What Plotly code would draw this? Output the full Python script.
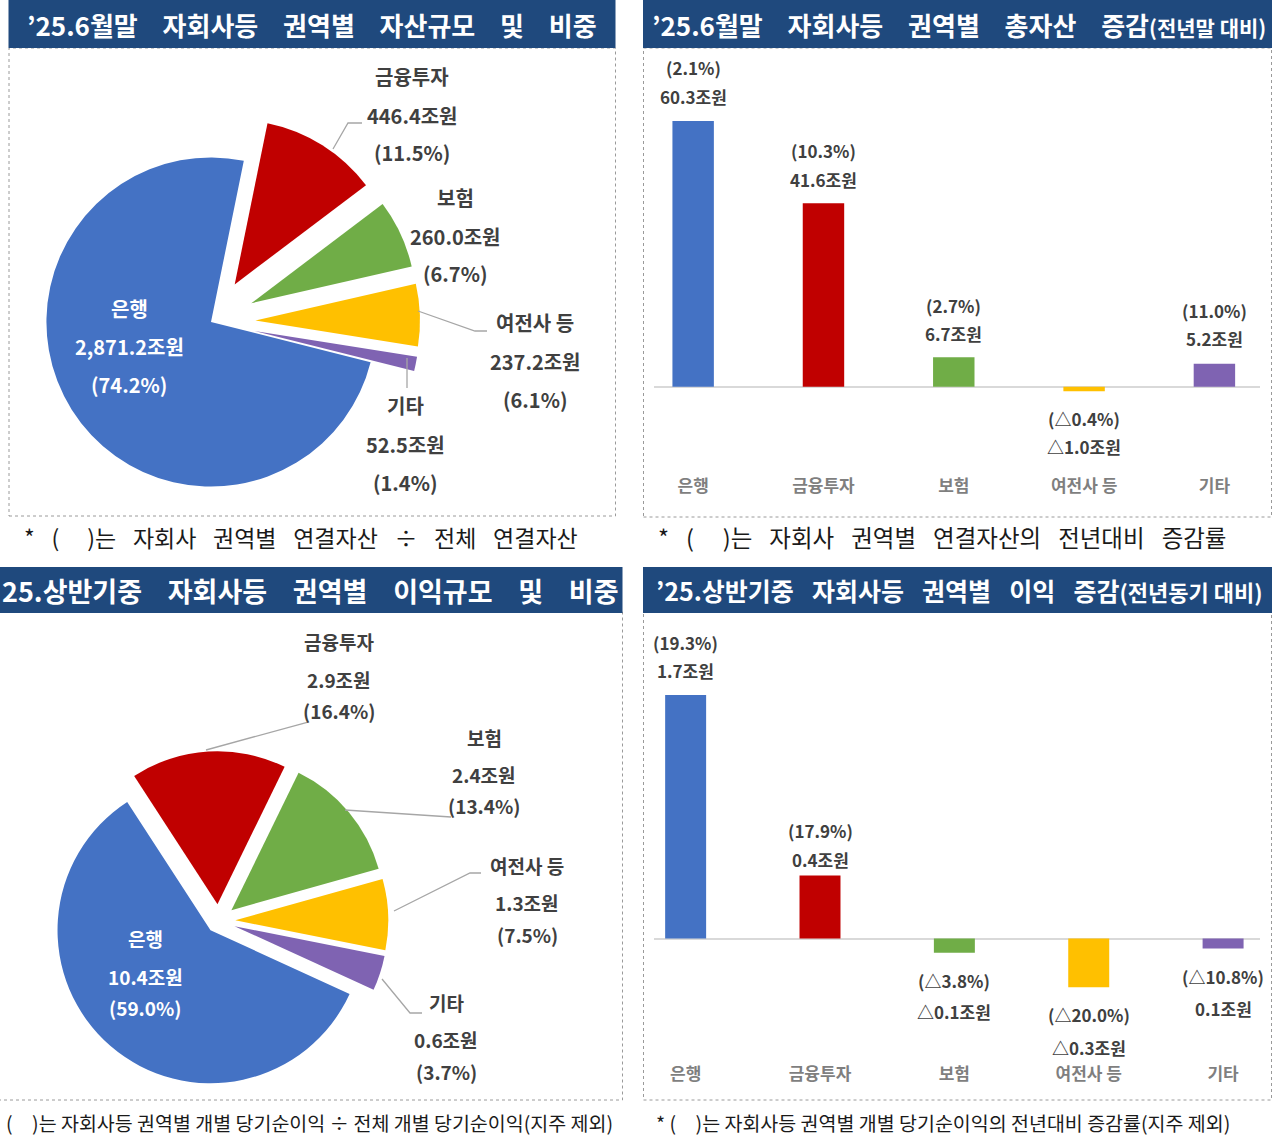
import plotly.graph_objects as go

W, H = 1280, 1146
FONT = "Noto Sans CJK KR"

# ---------------- data ----------------
sectors = ["은행", "금융투자", "보험", "여전사 등", "기타"]
sector_colors = ["#4472C4", "#C00000", "#70AD47", "#FFC000", "#7F63B2"]

# '25.6월말 권역별 자산규모(조원) 및 비중(%)
asset_amount = [2871.2, 446.4, 260.0, 237.2, 52.5]
asset_share = [74.2, 11.5, 6.7, 6.1, 1.4]

# '25.6월말 권역별 총자산 증감(조원), 증감률(%)
asset_change = [60.3, 41.6, 6.7, -1.0, 5.2]
asset_change_rate = [2.1, 10.3, 2.7, -0.4, 11.0]

# '25.상반기중 권역별 이익규모(조원) 및 비중(%)
profit_amount = [10.4, 2.9, 2.4, 1.3, 0.6]
profit_share = [59.0, 16.4, 13.4, 7.5, 3.7]

# '25.상반기중 권역별 이익 증감: bar heights, printed labels
profit_change = [1.70, 0.44, -0.10, -0.34, -0.07]
profit_change_text = ["1.7", "0.4", "△0.1", "△0.3", "0.1"]
profit_change_rate = [19.3, 17.9, -3.8, -20.0, -10.8]

pie_order = [1, 2, 3, 4, 0]  # clockwise from the top: 금융투자 ... 은행


# ---------------- helpers ----------------
def fx(x):
    return x / W


def fy(y):
    return 1 - y / H


def tri(v):
    return ("△" if v < 0 else "") + f"{abs(v):.1f}"


annotations = []
shapes = []


def text(x, y, s, size, color="#404040", weight="bold", xanchor="center", xref="paper", yref="paper", yshift=0):
    annotations.append(dict(
        x=fx(x) if xref == "paper" else x,
        y=fy(y) if yref == "paper" else y,
        xref=xref, yref=yref, text=s, showarrow=False,
        xanchor=xanchor, yanchor="middle", yshift=yshift,
        font=dict(family=FONT, size=size, color=color, weight=weight),
    ))


def rect(x0, y0, x1, y1, fill=None, line=None):
    shapes.append(dict(type="rect", xref="paper", yref="paper",
                       x0=fx(x0), x1=fx(x1), y0=fy(y1), y1=fy(y0),
                       fillcolor=fill or "rgba(0,0,0,0)",
                       line=line or dict(width=0), layer="below"))


def polyline(pts, color="#A6A6A6", width=1.3):
    path = "M " + " L ".join(f"{fx(x):.5f},{fy(y):.5f}" for x, y in pts)
    shapes.append(dict(type="path", xref="paper", yref="paper", path=path,
                       line=dict(color=color, width=width)))


fig = go.Figure()

# ---------------- panel frames ----------------
NAVY = "#1F497D"
dot = dict(color="#9A9A9A", width=1, dash="dot")
rect(9, 48, 615.5, 516, line=dot)
rect(643.5, 48, 1271.5, 517, line=dot)
rect(-2, 612, 622.5, 1100, line=dot)
rect(643.5, 612, 1271.5, 1100, line=dot)
rect(8.5, 0, 615.5, 48, fill=NAVY)
rect(643, 0, 1272, 48, fill=NAVY)
rect(0, 567, 622.5, 613, fill=NAVY)
rect(643, 567, 1272, 613, fill=NAVY)

G = "\u2002\u00a0\u00a0"
G2 = "\u2002\u00a0"
span = "<span style='font-size:{}px'>{}</span>"
text(25, 24, f"’25.6월말{G}자회사등{G}권역별{G}자산규모{G}및{G}비중", 26, "white", xanchor="left")
text(650, 24, f"’25.6월말{G}자회사등{G}권역별{G}총자산{G}증감" + span.format(21, "(전년말 대비)"), 26, "white", xanchor="left")
text(0, 590, f"25.상반기중{G}자회사등{G}권역별{G}이익규모{G}및{G}비중", 27, "white", xanchor="left")
text(654, 590, f"’25.상반기중{G2}자회사등{G2}권역별{G2}이익{G2}증감" + span.format(22, "(전년동기 대비)"), 25, "white", xanchor="left")

GF = "\u2002\u00a0"
S = "\u00a0"
text(22, 537, "*" + GF + "(\u2003\u00a0)는" + GF + "자회사" + GF + "권역별" + GF + "연결자산" + GF + "÷" + GF + "전체" + GF + "연결자산",
     23, "#1A1A1A", "normal", xanchor="left")
text(656, 537, "*" + GF + "(\u2003\u00a0)는" + GF + "자회사" + GF + "권역별" + GF + "연결자산의" + GF + "전년대비" + GF + "증감률",
     23.5, "#1A1A1A", "normal", xanchor="left")
text(4, 1122, "(\u2003)는" + S + "자회사등" + S + "권역별" + S + "개별" + S + "당기순이익" + S + "÷" + S + "전체" + S + "개별" + S + "당기순이익(지주" + S + "제외)",
     19.5, "#1A1A1A", "normal", xanchor="left")
text(654, 1122, "*" + S + "(\u2003)는" + S + "자회사등" + S + "권역별" + S + "개별" + S + "당기순이익의" + S + "전년대비" + S + "증감률(지주" + S + "제외)",
     19.5, "#1A1A1A", "normal", xanchor="left")

# ---------------- pie 1: asset size ----------------
fig.add_trace(go.Pie(
    labels=[sectors[i] for i in pie_order],
    values=[asset_share[i] for i in pie_order],
    marker=dict(colors=[sector_colors[i] for i in pie_order]),
    pull=[0.27, 0.27, 0.27, 0.27, 0.0],
    rotation=11.5, direction="clockwise", sort=False,
    textinfo="none", hoverinfo="skip", showlegend=False,
    domain=dict(x=[fx(2.0), fx(420.0)], y=[fy(531.0), fy(113.0)]),
))
pie1_pos = [(129, 308, 346, 384), (412, 76, 115, 153), (455, 197, 236, 274),
            (535, 322, 361, 399), (405, 405, 444, 483)]
for i, (cx, y1, y2, y3) in enumerate(pie1_pos):
    col = "white" if i == 0 else "#404040"
    text(cx, y1, sectors[i], 20, col)
    text(cx, y2, f"{asset_amount[i]:,.1f}조원", 20, col)
    text(cx, y3, f"({asset_share[i]:.1f}%)", 20, col)
polyline([(333, 149), (348, 123), (362, 123)])
polyline([(418, 311), (475, 331), (487, 331)])
polyline([(407, 358), (407, 388)])

# ---------------- pie 2: profit size ----------------
fig.add_trace(go.Pie(
    labels=[sectors[i] for i in pie_order],
    values=[profit_share[i] for i in pie_order],
    marker=dict(colors=[sector_colors[i] for i in pie_order]),
    pull=[0.11, 0.11, 0.11, 0.11, 0.08],
    rotation=-33, direction="clockwise", sort=False,
    textinfo="none", hoverinfo="skip", showlegend=False,
    domain=dict(x=[fx(48.7), fx(388.3)], y=[fy(1090.8), fy(751.2)]),
))
pie2_pos = [(145, 939, 976, 1007), (339, 641, 679, 710), (484, 737, 774, 806),
            (527, 865, 902, 934), (446, 1002, 1039, 1071)]
for i, (cx, y1, y2, y3) in enumerate(pie2_pos):
    col = "white" if i == 0 else "#404040"
    text(cx, y1, sectors[i], 19, col)
    text(cx, y2, f"{profit_amount[i]:,.1f}조원", 19, col)
    text(cx, y3, f"({profit_share[i]:.1f}%)", 19, col)
polyline([(206, 750), (308, 722)])
polyline([(345, 810), (451, 817)])
polyline([(394, 911), (470, 873), (481, 873)])
polyline([(382, 979), (410, 1013), (422, 1013)])

# ---------------- bar 1: asset change ----------------
fig.add_trace(go.Bar(x=sectors, y=asset_change, marker=dict(color=sector_colors, line=dict(width=0)),
                     width=0.318, xaxis="x", yaxis="y", hoverinfo="skip", showlegend=False))
off_rate1 = [53, 53, 52, -27, 53]
off_amt1 = [24, 24, 24, -55, 25]
for i, v in enumerate(asset_change):
    text(sectors[i], v, f"({tri(asset_change_rate[i])}%)", 17, xref="x", yref="y", yshift=off_rate1[i])
    text(sectors[i], v, f"{tri(v)}조원", 17, xref="x", yref="y", yshift=off_amt1[i])

# ---------------- bar 2: profit change ----------------
fig.add_trace(go.Bar(x=sectors, y=profit_change, marker=dict(color=sector_colors, line=dict(width=0)),
                     width=0.305, xaxis="x2", yaxis="y2", hoverinfo="skip", showlegend=False))
off_rate2 = [53, 45, -28, -27, -28]
off_amt2 = [25, 16, -59, -60, -60]
for i, v in enumerate(profit_change):
    text(sectors[i], v, f"({tri(profit_change_rate[i])}%)", 17, xref="x2", yref="y2", yshift=off_rate2[i])
    text(sectors[i], v, f"{profit_change_text[i]}조원", 17, xref="x2", yref="y2", yshift=off_amt2[i])


def yrange(top, bottom, zero, scale):
    return [-(bottom - zero) / scale, (zero - top) / scale]


tickfont = dict(family=FONT, size=17, color="#7F7F7F", weight="bold")
xcommon = dict(showgrid=False, zeroline=False, showline=False, ticks="", tickfont=tickfont, fixedrange=True)
ycommon = dict(showgrid=False, zeroline=True, zerolinecolor="#D9D9D9", zerolinewidth=2,
               showticklabels=False, showline=False, ticks="", fixedrange=True)

fig.update_layout(
    width=W, height=H,
    margin=dict(l=0, r=0, t=0, b=0),
    paper_bgcolor="white", plot_bgcolor="rgba(0,0,0,0)",
    font=dict(family=FONT),
    xaxis=dict(domain=[fx(653.8), fx(1259.5)], range=[-0.302, 4.346], anchor="y", **xcommon),
    yaxis=dict(domain=[fy(474), fy(60)], range=yrange(60, 474, 386.8, 4.41), anchor="x", **ycommon),
    xaxis2=dict(domain=[fx(653.8), fx(1259.5)], range=[-0.237, 4.271], anchor="y2", **xcommon),
    yaxis2=dict(domain=[fy(1062), fy(625)], range=yrange(625, 1062, 938.5, 143.2), anchor="x2", **ycommon),
    shapes=shapes, annotations=annotations,
)

fig.write_html("out.html", config={"displayModeBar": False},
               post_script="document.body.style.margin='0px';document.body.style.overflow='hidden';")
